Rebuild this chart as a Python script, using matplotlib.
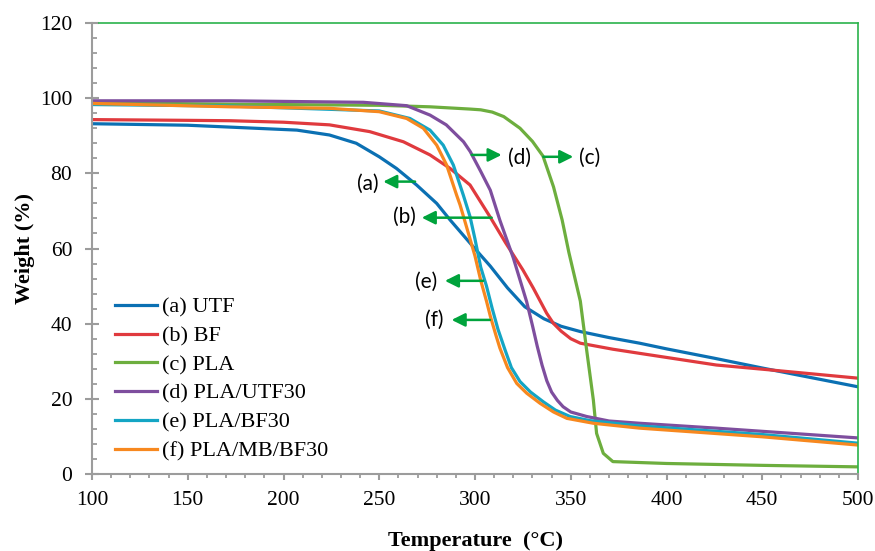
from typing import Tuple

import matplotlib
matplotlib.use('Agg')
import matplotlib.pyplot as plt

# temperature (°C) / weight (%)
utf_temp = [100, 150, 172, 207, 224, 238, 250, 259, 269.5, 280, 287, 299, 308, 317, 326, 336,
            345, 355, 370, 386, 400, 425, 450, 475, 500]
utf_weight = [93.2, 92.8, 92.3, 91.5, 90.2, 88.0, 84.4, 81.3, 76.9, 72.0, 67.6, 60.5, 55.3, 49.5,
              44.5, 41.3, 39.3, 37.9, 36.3, 34.8, 33.3, 30.8, 28.2, 25.7, 23.2]

bf_temp = [100, 150, 172, 200, 224, 245, 262.6, 276.5, 287, 297.4, 308, 316, 325, 330.4, 337.4,
           340.9, 345, 350, 355, 372, 386, 426, 454, 500]
bf_weight = [94.3, 94.1, 94.0, 93.6, 92.9, 91.1, 88.4, 84.9, 81.3, 76.9, 68.3, 61.5, 54.3, 49.5,
             42.8, 40.1, 38.0, 36.0, 34.8, 33.2, 32.1, 29.0, 27.7, 25.5]

pla_temp = [100, 172, 250, 276.5, 297.4, 303, 309, 315, 323.5, 330, 335.5, 341, 345.5, 349, 355,
            358.3, 361.8, 363.5, 367, 372, 400, 450, 500]
pla_weight = [98.8, 98.4, 98.1, 97.7, 97.1, 96.9, 96.3, 95.1, 92.0, 88.5, 84.6, 76.4, 67.6, 59.0,
              46.0, 33.0, 19.7, 10.8, 5.5, 3.3, 2.8, 2.3, 1.9]

pla_utf_temp = [100, 172, 241.7, 264.3, 276.5, 285, 294, 297.5, 303, 308, 313, 320, 327, 330,
                332.5, 335, 337.5, 340, 343, 346, 350, 358.3, 370, 386, 426, 500]
pla_utf_weight = [99.3, 99.3, 98.9, 98.0, 95.5, 92.9, 88.4, 85.8, 80.5, 75.5, 67.5, 57.5, 45.8,
                  39.5, 34.0, 29.0, 24.8, 21.8, 19.6, 17.9, 16.5, 15.3, 14.1, 13.5, 12.2, 9.6]

pla_bf_temp = [100, 172, 250, 266, 276.5, 283.4, 288.7, 293.9, 297.4, 300, 303, 306, 309, 312,
               315.7, 319, 323.5, 329, 335.7, 342, 349.6, 360, 386, 450, 500]
pla_bf_weight = [98.3, 97.9, 96.6, 94.6, 91.5, 87.5, 82.2, 74.2, 68.5, 62.5, 55.0, 50.0, 44.0,
                 38.5, 33.0, 28.3, 24.6, 21.8, 19.2, 17.0, 15.3, 14.2, 12.8, 10.5, 8.2]

pla_mb_bf_temp = [100, 172, 224, 250, 264.3, 273, 280, 285.2, 290.4, 292.2, 294, 296, 300, 303,
                  306, 308, 311, 313, 317, 321.8, 327, 334, 341, 348, 361.8, 386, 450, 500]
pla_mb_bf_weight = [98.6, 97.7, 97.3, 96.4, 94.6, 92.0, 87.5, 82.2, 74.2, 71.6, 68.5, 65.0, 58.0,
                    51.5, 46.0, 42.0, 36.8, 33.5, 28.3, 24.1, 21.5, 18.8, 16.5, 14.8, 13.5, 12.2,
                    9.9, 7.7]

series_labels = ['(a) UTF', '(b) BF', '(c) PLA', '(d) PLA/UTF30', '(e) PLA/BF30', '(f) PLA/MB/BF30']
series_colors = ['#0B70B3', '#E03A3E', '#6DAE3E', '#7E4E9E', '#14A5C4', '#F7881F']

ARROW_GREEN = '#00A33C'
FRAME_GREEN = '#2BB34B'
AXIS_GRAY = '#9C9C9C'


def initialize_figure() -> Tuple[plt.Figure, plt.Axes]:
    fig = plt.figure(figsize=(8.75, 5.51), dpi=100)
    ax = fig.add_axes([92 / 875, 1 - 474 / 551, 766 / 875, 451 / 551])
    return fig, ax


def plot_data(ax: plt.Axes):
    temps = [utf_temp, bf_temp, pla_temp, pla_utf_temp, pla_bf_temp, pla_mb_bf_temp]
    weights = [utf_weight, bf_weight, pla_weight, pla_utf_weight, pla_bf_weight, pla_mb_bf_weight]
    for t, w, label, color in zip(temps, weights, series_labels, series_colors):
        ax.plot(t, w, color=color, lw=2.3, label=label, solid_joinstyle='round')


def add_arrows(ax: plt.Axes):
    # (text, text x, text y, arrow tail x, arrow head x, arrow y)
    notes = [
        ('(a)', 243.9, 77.3, 268.7, 252.1, 77.8),
        ('(b)', 263.4, 68.5, 308.7, 272.2, 68.2),
        ('(e)', 274.7, 51.0, 304.3, 284.3, 51.4),
        ('(f)', 278.6, 41.0, 307.8, 287.8, 41.0),
        ('(d)', 323.0, 84.2, 298.3, 313.9, 84.9),
        ('(c)', 360.0, 84.2, 335.7, 351.3, 84.4),
    ]
    for text, tx, ty, x0, x1, y in notes:
        ax.annotate('', xy=(x1, y), xytext=(x0, y),
                    arrowprops=dict(arrowstyle='-|>', color=ARROW_GREEN, lw=1.8,
                                    mutation_scale=20, shrinkA=0, shrinkB=0))
        ax.text(tx, ty, text, family='Lato', fontsize=15, ha='center', va='center')


def set_axes(ax: plt.Axes):
    serif = 'Liberation Serif'
    ax.set_xlim(100, 500)
    ax.set_ylim(0, 120)
    ax.set_xticks(range(100, 501, 50))
    ax.set_xticks(range(100, 501, 10), minor=True)
    ax.set_yticks(range(0, 121, 20))
    ax.set_yticks(range(0, 121, 4), minor=True)

    for side in ['left', 'bottom']:
        ax.spines[side].set_color(AXIS_GRAY)
        ax.spines[side].set_linewidth(1.5)
    for side in ['top', 'right']:
        ax.spines[side].set_color(FRAME_GREEN)
        ax.spines[side].set_linewidth(1.2)
    ax.spines['top'].set_bounds(103.5, 500)

    ax.tick_params(axis='y', which='major', direction='inout', length=9.4, width=1.5,
                   color=AXIS_GRAY, pad=9.5, labelsize=15.5)
    ax.tick_params(axis='y', which='minor', direction='in', length=3.6, width=1.3, color=AXIS_GRAY)
    ax.tick_params(axis='x', which='major', direction='out', length=4.3, width=1.5,
                   color=AXIS_GRAY, pad=8, labelsize=15.5)
    ax.tick_params(axis='x', which='minor', direction='out', length=3.2, width=1.3, color=AXIS_GRAY)
    for lbl in ax.get_xticklabels() + ax.get_yticklabels():
        lbl.set_family(serif)

    ax.set_xlabel('Temperature  (°C)', family=serif, fontweight='bold', fontsize=16, va='center')
    ax.set_ylabel('Weight (%)', family=serif, fontweight='bold', fontsize=16, va='center',
                  rotation_mode='anchor')
    ax.xaxis.set_label_coords(0.5, (474 - 541) / 451)
    ax.yaxis.set_label_coords((25 - 92) / 766, 0.5)

    ax.legend(loc='upper left', bbox_to_anchor=(115 / 875, 1 - 297 / 551),
              bbox_transform=ax.figure.transFigure, frameon=False, borderpad=0,
              borderaxespad=0, handlelength=1.9, handletextpad=0.2, labelspacing=0.37,
              prop={'family': serif, 'size': 16})


def main():
    fig, ax = initialize_figure()
    plot_data(ax)
    add_arrows(ax)
    set_axes(ax)
    fig.savefig('out.png', dpi=100)


if __name__ == '__main__':
    main()
